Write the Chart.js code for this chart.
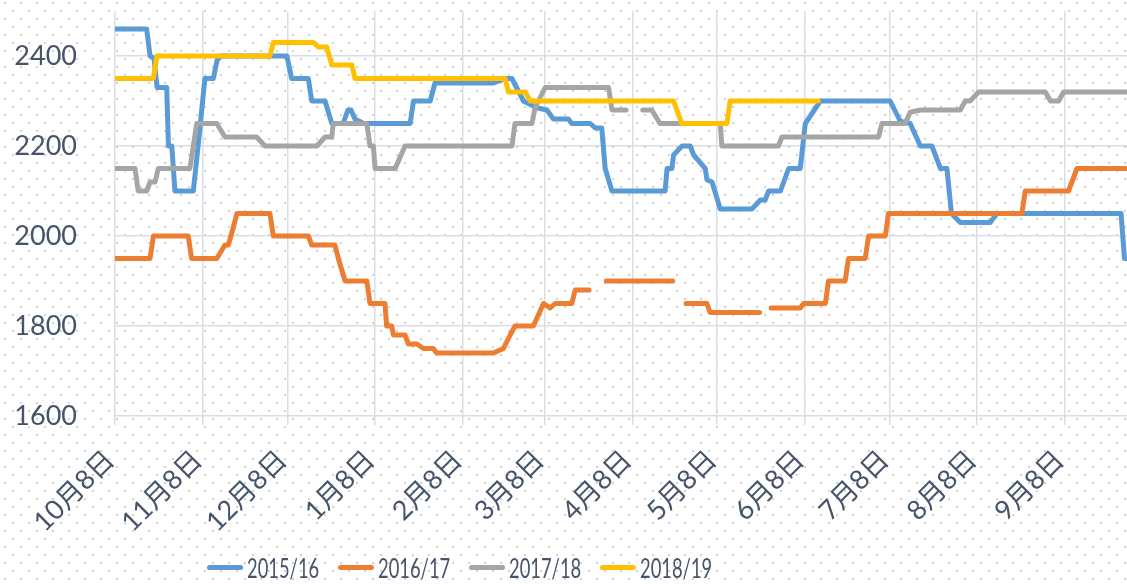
<!DOCTYPE html>
<html>
<head>
<meta charset="utf-8">
<script src="https://cdn.jsdelivr.net/npm/chart.js@4.4.0/dist/chart.umd.min.js"></script>
<style>
  body {
    margin: 0;
    width: 1127px;
    height: 584px;
    overflow: hidden;
    background: #fff url("data:image/svg+xml,%3Csvg xmlns='http://www.w3.org/2000/svg' width='16' height='16'%3E%3Crect x='4' y='2' width='2' height='2' fill='%23d2d2d2'/%3E%3Crect x='12' y='10' width='2' height='2' fill='%23d2d2d2'/%3E%3C/svg%3E") repeat;
  }
  #wrap { position: relative; width: 1127px; height: 584px; }
  #legend {
    position: absolute; left: 207px; top: 551px;
    display: flex; gap: 21px;
    font: 27px Lato, sans-serif;
    color: #44546a;
  }
  .item { display: flex; align-items: center; width: 110px; white-space: nowrap; }
  .swatch { width: 36px; height: 5px; border-radius: 3px; margin-right: 4px; flex: none; }
  .name { display: inline-block; transform: scaleX(0.68); transform-origin: left center; }
</style>
</head>
<body>
<div id="wrap">
  <canvas id="chart" width="1127" height="584"></canvas>
  <div id="legend"></div>
</div>
<script>
// ==================== DATA ====================
// x = days since 10月8日
const monthDays = [0, 31, 61, 92, 123, 152, 183, 213, 244, 274, 305, 336];
const monthLabels = ['10月8日', '11月8日', '12月8日', '1月8日', '2月8日', '3月8日', '4月8日', '5月8日', '6月8日', '7月8日', '8月8日', '9月8日'];
const yTicks = [1600, 1800, 2000, 2200, 2400];
const seriesNames = ['2015/16', '2016/17', '2017/18', '2018/19'];
const seriesColors = ['#5b9bd5', '#ed7d31', '#a5a5a5', '#ffc000'];

const days1516 = [0, 11.2, 12.4, 13.8, 14.9, 18.3, 18.9, 20.1, 21.2, 27.7, 29.4, 31.8, 34.8, 36.1, 37.2, 60.8, 62.5, 68.4, 69.6, 74.3, 76.7, 80.7, 82.4, 83.5, 84.9, 87.9, 104.4, 105.6, 111.5, 113.2, 133.9, 138.0, 140.4, 144.5, 149.2, 152.8, 155.1, 160.4, 161.6, 168.1, 169.9, 172.2, 173.4, 175.8, 194.6, 195.3, 197.0, 197.6, 200.6, 203.5, 204.7, 208.8, 209.4, 211.2, 214.1, 225.3, 228.3, 230.0, 231.2, 235.4, 238.3, 242.4, 244.2, 249.5, 274.2, 277.8, 281.3, 284.9, 289.0, 292.0, 294.3, 295.9, 299.0, 309.6, 312.0, 355.9, 357.1, 358];
const price1516 = [2460, 2460, 2400, 2395, 2330, 2330, 2200, 2200, 2100, 2100, 2200, 2350, 2350, 2390, 2400, 2400, 2350, 2350, 2300, 2300, 2250, 2250, 2280, 2280, 2260, 2250, 2250, 2300, 2300, 2340, 2340, 2350, 2350, 2300, 2285, 2280, 2260, 2260, 2250, 2250, 2240, 2240, 2150, 2100, 2100, 2150, 2150, 2180, 2200, 2200, 2180, 2150, 2125, 2120, 2060, 2060, 2080, 2080, 2100, 2100, 2150, 2150, 2250, 2300, 2300, 2255, 2250, 2200, 2200, 2150, 2150, 2050, 2030, 2030, 2050, 2050, 1950, 1950];

const days1617 = [0, 12.4, 13.6, 25.9, 27.1, 36.0, 38.9, 40.1, 41.9, 43.1, 54.8, 56.0, 68.4, 69.6, 77.8, 79.0, 81.4, 89.1, 90.2, 95.5, 96.1, 97.9, 98.5, 102.6, 103.8, 106.8, 109.1, 112.6, 113.8, 133.9, 137.4, 139.8, 141.5, 148.0, 151.6, 153.9, 155.7, 161.6, 162.8, 167.7, 170, 173.8, 197.3, 199.5, 202.0, 209.4, 210.5, 228.0, 230, 232.1, 242.4, 243.6, 251.3, 252.4, 258.3, 259.5, 265.4, 266.6, 272.5, 273.6, 320.8, 322.0, 337.3, 340.3, 358];
const price1617 = [1950, 1950, 2000, 2000, 1950, 1950, 1980, 1980, 2020, 2050, 2050, 2000, 2000, 1980, 1980, 1950, 1900, 1900, 1850, 1850, 1800, 1800, 1780, 1780, 1760, 1760, 1750, 1750, 1740, 1740, 1750, 1780, 1800, 1800, 1850, 1840, 1850, 1850, 1880, 1880, null, 1900, 1900, null, 1850, 1850, 1830, 1830, null, 1840, 1840, 1850, 1850, 1900, 1900, 1950, 1950, 2000, 2000, 2050, 2050, 2100, 2100, 2150, 2150];

const days1718 = [0, 7.1, 8.2, 11.2, 12.4, 14.2, 15.3, 26.5, 28.9, 36.0, 38.9, 50.1, 53.1, 71.4, 74.3, 76.7, 77.2, 89.1, 90.2, 91.4, 92.0, 99.1, 102.6, 140.4, 141.5, 147.5, 148.6, 152.2, 174.6, 175.8, 180.8, 183.5, 186.7, 189.9, 192.8, 214.1, 214.7, 234.7, 235.9, 270.1, 271.3, 279.5, 281.3, 284.9, 299.0, 300.8, 302.5, 305.5, 329.1, 330.9, 333.8, 335.6, 358];
const price1718 = [2150, 2150, 2100, 2100, 2120, 2120, 2150, 2150, 2250, 2250, 2220, 2220, 2200, 2200, 2220, 2220, 2250, 2250, 2200, 2200, 2150, 2150, 2200, 2200, 2250, 2250, 2285, 2330, 2330, 2280, 2280, null, 2280, 2280, 2250, 2250, 2200, 2200, 2220, 2220, 2250, 2250, 2275, 2280, 2280, 2300, 2300, 2320, 2320, 2300, 2300, 2320, 2320];

const days1819 = [0, 13.6, 14.8, 54.8, 56.0, 70.2, 71.9, 74.9, 76.7, 83.8, 84.9, 138.0, 139.2, 145.1, 146.9, 197.6, 200.5, 216.5, 217.6, 248.8];
const price1819 = [2350, 2350, 2400, 2400, 2430, 2430, 2420, 2420, 2380, 2380, 2350, 2350, 2320, 2320, 2300, 2300, 2250, 2250, 2300, 2300];

// ==================== CHART ====================
const allDays = [days1516, days1617, days1718, days1819];
const allPrices = [price1516, price1617, price1718, price1819];
const textColor = '#44546a';
const gridColor = '#d9dee6';

const datasets = seriesNames.map((name, i) => ({
  label: name,
  data: allDays[i].map((d, j) => ({ x: d, y: allPrices[i][j] })),
  borderColor: seriesColors[i],
  backgroundColor: seriesColors[i],
  borderWidth: 5,
  borderCapStyle: 'round',
  borderJoinStyle: 'round',
  pointRadius: 0,
  tension: 0,
  order: seriesNames.length - 1 - i   // later seasons drawn on top
}));

new Chart(document.getElementById('chart'), {
  type: 'line',
  data: { datasets },
  options: {
    responsive: false,
    animation: false,
    layout: { padding: { top: 11, right: 0, left: 0, bottom: 0 } },
    plugins: { legend: { display: false }, tooltip: { enabled: false } },
    scales: {
      x: {
        type: 'linear',
        min: 0,
        max: 358,
        afterBuildTicks: s => { s.ticks = monthDays.map(v => ({ value: v })); },
        afterFit: s => { s.height = 168; },
        grid: { color: gridColor, lineWidth: 1.5, tickLength: 9 },
        border: { display: false },
        ticks: {
          autoSkip: false,
          minRotation: 45,
          maxRotation: 45,
          padding: 19,
          labelOffset: -5,
          color: textColor,
          font: { family: "Lato, 'Noto Sans CJK SC'", size: 27 },
          callback: v => monthLabels[monthDays.indexOf(v)]
        }
      },
      y: {
        min: 1600,
        max: 2500,
        afterBuildTicks: s => { s.ticks = yTicks.map(v => ({ value: v })); },
        afterFit: s => { s.width = 115; },
        // invisible tick marks hold the labels away from the plot
        grid: { color: gridColor, lineWidth: 1.5, tickLength: 38, tickColor: 'rgba(0,0,0,0)' },
        border: { display: false },
        ticks: {
          padding: 0,
          color: textColor,
          font: { family: 'Lato', size: 27, lineHeight: 0.8 },
          callback: v => String(v)
        }
      }
    }
  }
});

// ==================== LEGEND ====================
const legend = document.getElementById('legend');
seriesNames.forEach((name, i) => {
  const item = document.createElement('div');
  item.className = 'item';
  item.innerHTML = `<span class="swatch" style="background:${seriesColors[i]}"></span><span class="name">${name}</span>`;
  legend.appendChild(item);
});
</script>
</body>
</html>
